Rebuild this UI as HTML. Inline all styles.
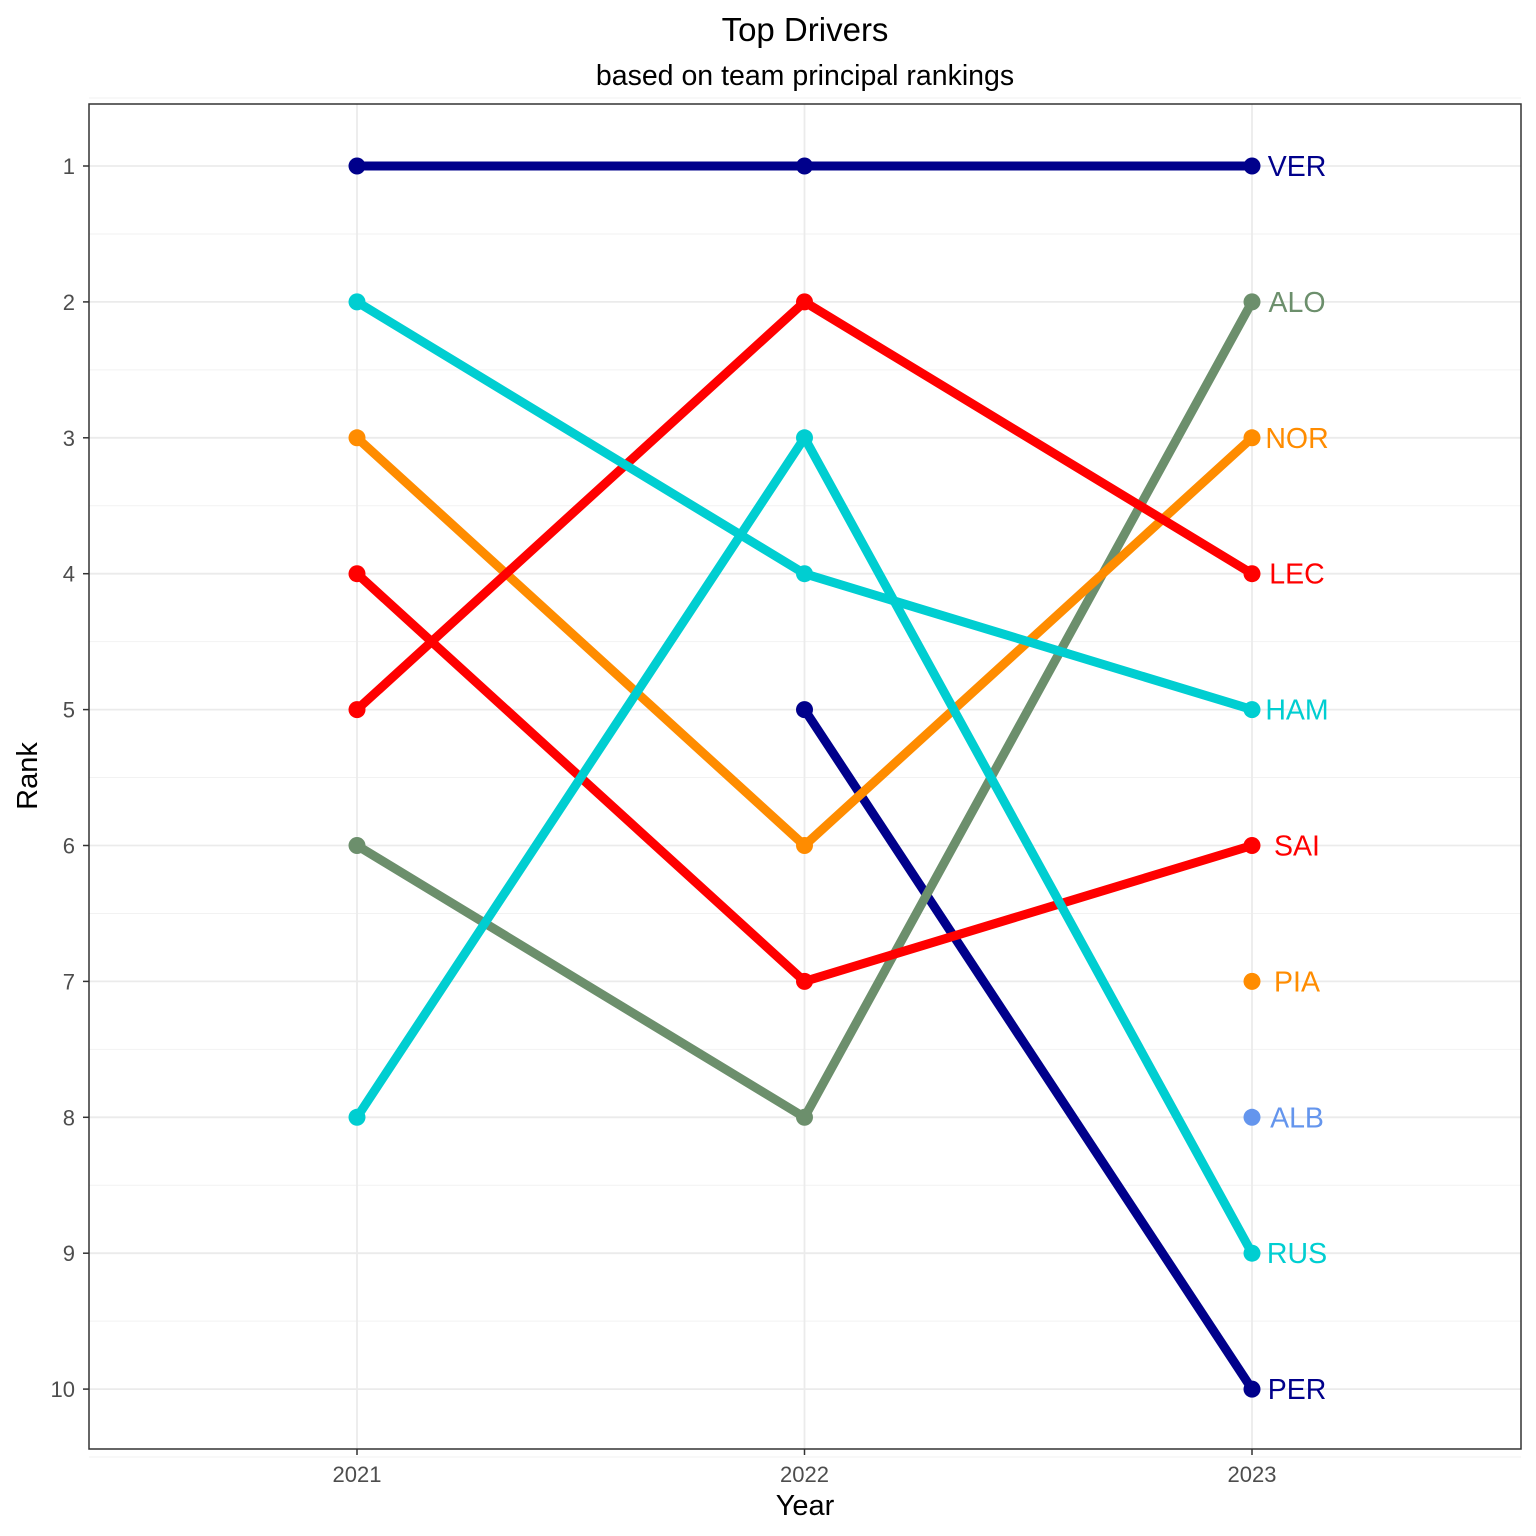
<!DOCTYPE html>
<html><head><meta charset="utf-8"><style>body{margin:0;background:#fff}svg{display:block}text{font-family:"Liberation Sans",Arial,sans-serif}</style></head>
<body>
<svg id="c" width="1536" height="1536" viewBox="0 0 1536 1536">
<rect x="0" y="0" width="1536" height="1536" fill="#fff"/>
<text x="805" y="41" font-size="33" text-anchor="middle">Top Drivers</text>
<text x="805" y="85" font-size="28.5" text-anchor="middle">based on team principal rankings</text>
<g id="grid"></g><g id="series"></g><g id="labels"></g>
<rect x="89" y="104" width="1432" height="1345" fill="none" stroke="#333" stroke-width="1.5"/>
<g id="axes"></g>
<text x="805" y="1515" font-size="29" text-anchor="middle">Year</text>
<text transform="translate(37,776) rotate(-90)" font-size="29" text-anchor="middle">Rank</text>
</svg>
<script>
const years = [2021, 2022, 2023];
const ranks = [1,2,3,4,5,6,7,8,9,10];
const drivers = ["VER","PER","ALO","NOR","PIA","LEC","SAI","HAM","RUS","ALB"];
const colors = ["#00008B","#00008B","#6C8F6C","#FF8C00","#FF8C00","#FF0000","#FF0000","#00CED1","#00CED1","#6495ED"];
const VER = [1,1,1];
const PER = [null,5,10];
const ALO = [6,8,2];
const NOR = [3,6,3];
const PIA = [null,null,7];
const LEC = [5,2,4];
const SAI = [4,7,6];
const HAM = [2,4,5];
const RUS = [8,3,9];
const ALB = [null,null,8];
const values = [VER,PER,ALO,NOR,PIA,LEC,SAI,HAM,RUS,ALB];

const NS="http://www.w3.org/2000/svg";
const x = y => 357 + (y-2021)*447.5;
const yS = r => 166 + (r-1)*135.9;
function mk(tag,attrs,parent,txt){const e=document.createElementNS(NS,tag);for(const k in attrs)e.setAttribute(k,attrs[k]);if(txt!==undefined)e.textContent=txt;document.getElementById(parent).appendChild(e);return e;}

for(let r=0.5;r<=10.5;r+=1){const g=mk('line',{x1:89,x2:1521,y1:yS(r),y2:yS(r),stroke:'#f2f2f2','stroke-width':1},'grid');

}
ranks.forEach(r=>{const g=mk('line',{x1:89,x2:1521,y1:yS(r),y2:yS(r),stroke:'#ebebeb','stroke-width':1.8},'grid');


const t=mk('text',{x:75,y:yS(r)+8,'font-size':22,fill:'#4d4d4d','text-anchor':'end'},'axes',r);


const tk=mk('line',{x1:83,x2:89,y1:yS(r),y2:yS(r),stroke:'#333','stroke-width':1.5},'axes');

});
years.forEach(yr=>{const g=mk('line',{x1:x(yr),x2:x(yr),y1:104,y2:1449,stroke:'#ebebeb','stroke-width':1.8},'grid');


const t=mk('text',{x:x(yr),y:1482,'font-size':22,fill:'#4d4d4d','text-anchor':'middle'},'axes',yr);


const tk=mk('line',{x1:x(yr),x2:x(yr),y1:1449,y2:1455,stroke:'#333','stroke-width':1.5},'axes');

});

drivers.forEach((d,i)=>{
  const v=values[i];const pts=[];
  v.forEach((r,j)=>{if(r!==null)pts.push([x(years[j]),yS(r)]);});
  if(pts.length>1){const p=mk('polyline',{points:pts.map(p=>p.join(',')).join(' '),fill:'none',stroke:colors[i],'stroke-width':9,'stroke-linejoin':'round'},'series');
  
  }
  pts.forEach(p=>{const c=mk('circle',{cx:p[0],cy:p[1],r:8.5,fill:colors[i]},'series');
  
  });
  const last=v[v.length-1];
  const t=mk('text',{x:1297,y:yS(last)+10,'font-size':28.5,fill:colors[i],'text-anchor':'middle'},'labels',d);
  
  
});
</script>
</body></html>
